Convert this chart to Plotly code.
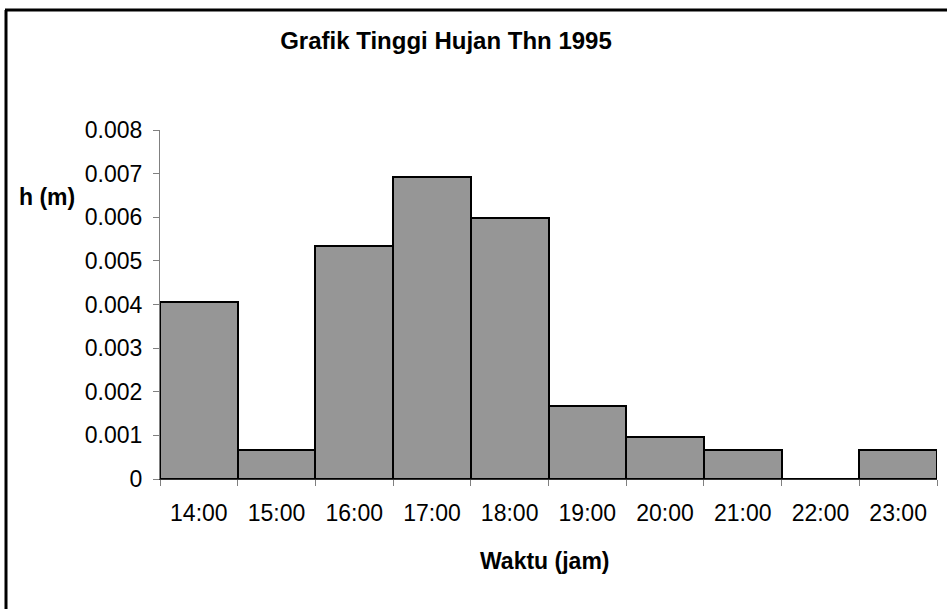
import plotly.graph_objects as go

# hourly rainfall depth, 1995
jam = ["14:00", "15:00", "16:00", "17:00", "18:00",
       "19:00", "20:00", "21:00", "22:00", "23:00"]
tinggi = [0.00405, 0.00067, 0.00533, 0.00692, 0.00599,
          0.00168, 0.00096, 0.00066, 0.0, 0.00066]

y_ticks = [0, 0.001, 0.002, 0.003, 0.004, 0.005, 0.006, 0.007, 0.008]
y_ticktext = ["0", "0.001", "0.002", "0.003", "0.004",
              "0.005", "0.006", "0.007", "0.008"]

W, H = 947, 609
L, R, T, B = 160, 10, 130, 130
pw, ph = W - L - R, H - T - B

def px_x(px):
    return (px - L) / pw

def px_y(py):
    return (H - B - py) / ph

fnt = "Arial, Liberation Sans, sans-serif"

fig = go.Figure()
fig.add_trace(
    go.Bar(
        x=jam,
        y=tinggi,
        marker=dict(color="#969696", line=dict(color="black", width=2)),
        hovertemplate="Waktu: %{x}<br>h: %{y:.5f} m<extra></extra>",
    )
)

fig.update_layout(
    width=W,
    height=H,
    margin=dict(l=L, r=R, t=T, b=B),
    paper_bgcolor="white",
    plot_bgcolor="white",
    bargap=0,
    showlegend=False,
    font=dict(family=fnt, size=24, color="black"),
    title=dict(
        text="Grafik Tinggi Hujan Thn 1995",
        x=446 / W,
        xanchor="center",
        y=1 - 41 / H,
        yanchor="middle",
        font=dict(family=fnt, size=24, weight="bold", color="black"),
    ),
    xaxis=dict(
        type="category",
        range=[-0.5, len(jam) - 0.5],
        showline=True,
        linecolor="#333333",
        linewidth=1,
        ticks="outside",
        tickson="boundaries",
        ticklen=6,
        tickcolor="#808080",
        ticklabelstandoff=13,
        showgrid=False,
        zeroline=False,
        tickfont=dict(size=23),
    ),
    yaxis=dict(
        range=[0, 0.008],
        tickvals=y_ticks,
        ticktext=y_ticktext,
        showline=True,
        linecolor="#808080",
        linewidth=1,
        ticks="outside",
        ticklen=6,
        tickcolor="#808080",
        ticklabelstandoff=6,
        showgrid=False,
        zeroline=False,
        tickfont=dict(size=23),
    ),
)

# axis titles placed like the original (horizontal y label)
fig.add_annotation(
    text="<b>h (m)</b>", xref="paper", yref="paper",
    x=px_x(17), y=px_y(197), xanchor="left", yanchor="middle",
    showarrow=False, font=dict(size=23),
)
fig.add_annotation(
    text="<b>Waktu (jam)</b>", xref="paper", yref="paper",
    x=px_x(545), y=px_y(561), xanchor="center", yanchor="middle",
    showarrow=False, font=dict(size=23),
)

# chart frame, only left and top edges visible in the crop
fig.add_shape(type="line", xref="paper", yref="paper",
              x0=px_x(6), x1=px_x(6), y0=px_y(10), y1=px_y(H + 5),
              line=dict(color="black", width=3))
fig.add_shape(type="line", xref="paper", yref="paper",
              x0=px_x(5), x1=px_x(W + 5), y0=px_y(10), y1=px_y(10),
              line=dict(color="black", width=3))

# drop the default page margin so the figure sits at the window corner
fig.write_html(
    "out.html",
    config={"displayModeBar": False},
    post_script="document.body.style.margin='0';",
)
